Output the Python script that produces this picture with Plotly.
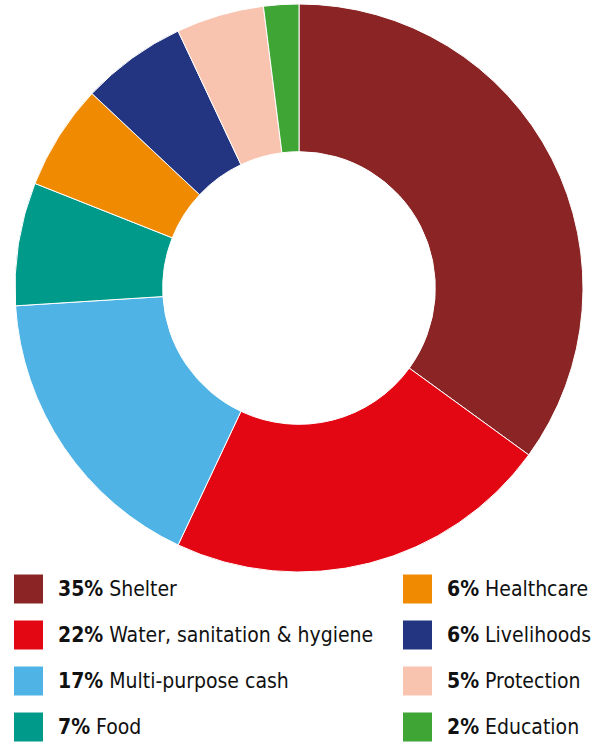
import plotly.graph_objects as go

categories = ["Shelter", "Water, sanitation & hygiene", "Multi-purpose cash", "Food",
              "Healthcare", "Livelihoods", "Protection", "Education"]
values = [35, 22, 17, 7, 6, 6, 5, 2]
colors = ["#8B2525", "#E30613", "#4FB3E5", "#009A8A",
          "#F08A00", "#233580", "#F8C4B0", "#3FA535"]

W, H = 595, 753
FONT = "DejaVu Sans Condensed"

fig = go.Figure(go.Pie(
    labels=categories, values=values, sort=False, direction="clockwise",
    rotation=0, hole=0.48,
    marker=dict(colors=colors, line=dict(color="white", width=1)),
    textinfo="none", hoverinfo="label+percent",
    domain=dict(x=[15 / W, 583 / W], y=[1 - 572 / H, 1 - 4 / H]),
    showlegend=False,
))

shapes, annotations = [], []
col_x = [14, 403]
row_y = [589, 635, 681, 727]
sw = 29
for i, (cat, val, col) in enumerate(zip(categories, values, colors)):
    c, r = divmod(i, 4)
    x0 = col_x[c]
    yc = row_y[r]
    shapes.append(dict(type="rect", xref="paper", yref="paper",
                       x0=x0 / W, x1=(x0 + sw) / W,
                       y0=1 - (yc + sw / 2) / H, y1=1 - (yc - sw / 2) / H,
                       fillcolor=col, line=dict(width=0)))
    annotations.append(dict(xref="paper", yref="paper", x=(x0 + 42) / W, y=1 - yc / H,
                            xanchor="left", yanchor="middle", showarrow=False,
                            text=f"<b>{val}%</b> {cat}",
                            font=dict(family=FONT, size=21, color="#111111")))

fig.update_layout(width=W, height=H, margin=dict(l=0, r=0, t=0, b=0),
                  paper_bgcolor="white", plot_bgcolor="white",
                  shapes=shapes, annotations=annotations)
fig.write_html("out.html", config={"displayModeBar": False},
               post_script="document.body.style.margin='0';")
